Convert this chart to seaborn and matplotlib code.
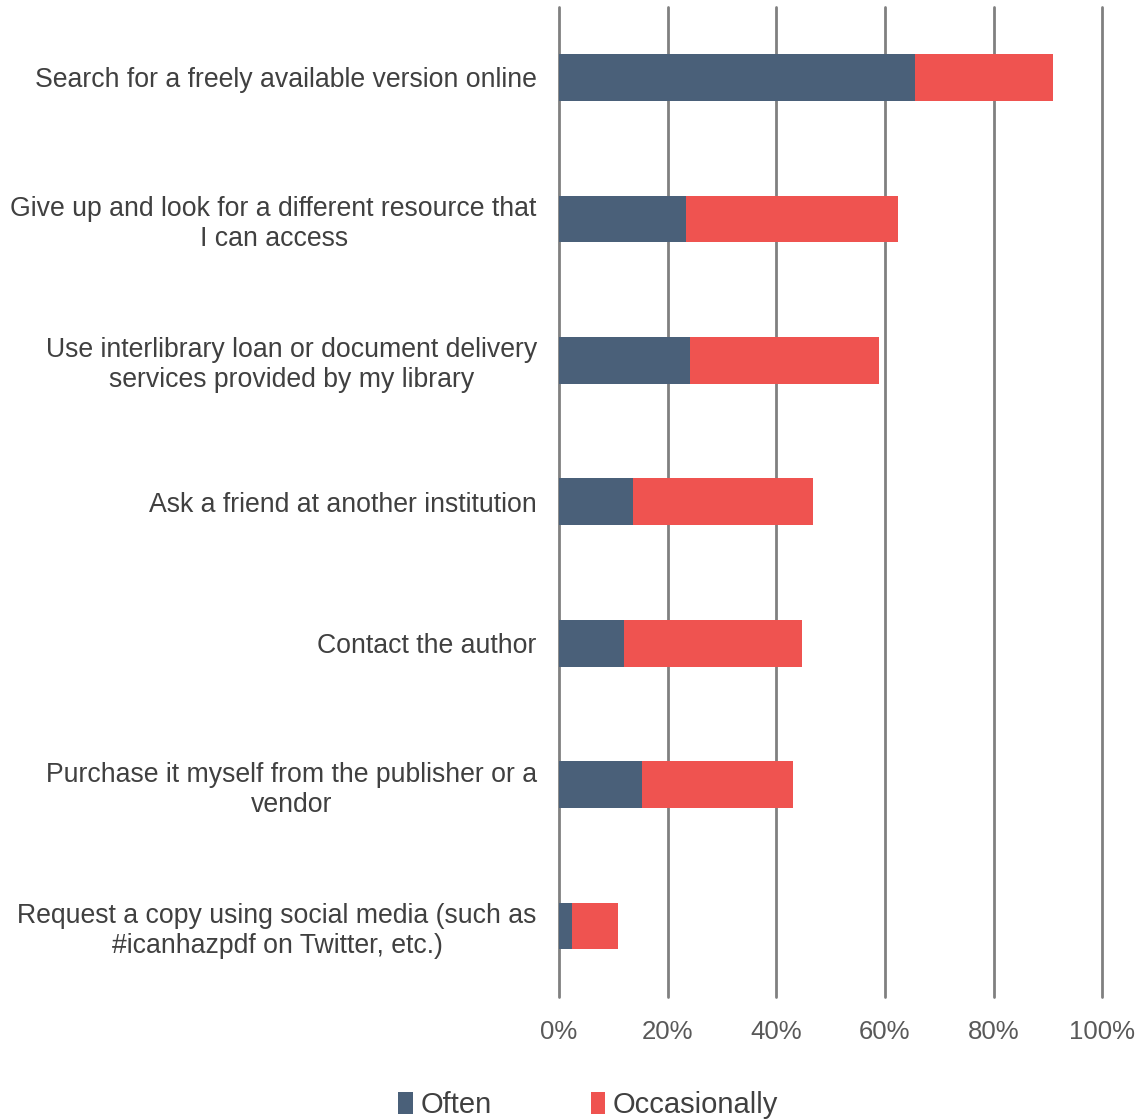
import matplotlib
matplotlib.use("Agg")
import matplotlib.pyplot as plt
import seaborn as sns
import pandas as pd
import numpy as np
from matplotlib.patches import Patch

categories = [
    "Search for a freely available version online",
    "Give up and look for a different resource that\nI can access",
    "Use interlibrary loan or document delivery\nservices provided by my library",
    "Ask a friend at another institution",
    "Contact the author",
    "Purchase it myself from the publisher or a\nvendor",
    "Request a copy using social media (such as\n#icanhazpdf on Twitter, etc.)",
]
often = [65.5, 23.4, 24.1, 13.7, 11.9, 15.2, 2.4]
occasionally = [25.5, 39.0, 34.8, 33.1, 32.8, 27.8, 8.5]
tick_values = [0, 20, 40, 60, 80, 100]
tick_labels = ["0%", "20%", "40%", "60%", "80%", "100%"]
series_names = ["Often", "Occasionally"]

c_often = "#4A6079"
c_occ = "#EF5350"
txt = "#404040"

sns.set_theme(style="white")
plt.rcParams["font.family"] = ["Liberation Sans", "DejaVu Sans"]

df = pd.DataFrame({"category": categories, "often": often, "occasionally": occasionally})
df["total"] = df["often"] + df["occasionally"]

fig = plt.figure(figsize=(11.4, 11.2), dpi=100)
ax = fig.add_axes([0.4904, 0.110, 0.4765, 0.884])

sns.barplot(data=df, x="total", y="category", color=c_occ, width=0.33,
            saturation=1, ax=ax, orient="h", linewidth=0)
sns.barplot(data=df, x="often", y="category", color=c_often, width=0.33,
            saturation=1, ax=ax, orient="h", linewidth=0)

ax.set_xlim(0, 100)
ax.set_xticks(tick_values)
ax.set_xticklabels(tick_labels, fontsize=18.5, color="#595959")
ax.set_xlabel("")
ax.set_ylabel("")
for lab in ax.get_yticklabels():
    lab.set_multialignment("center")
    lab.set_fontsize(19.2)
    lab.set_color(txt)
ax.tick_params(axis="y", length=0, pad=16)
ax.tick_params(axis="x", length=0, pad=17)
for s in ax.spines.values():
    s.set_visible(False)
ax.grid(False)
for v in tick_values:
    ax.axvline(v, color="#808080", lw=2, zorder=0, clip_on=False)
ax.set_axisbelow(True)

handles = [Patch(facecolor=c_often, edgecolor="none"), Patch(facecolor=c_occ, edgecolor="none")]
fig.legend(handles, series_names, loc="center", bbox_to_anchor=(0.516, 0.013), ncol=2,
           frameon=False, fontsize=21, handlelength=0.5, handleheight=0.8,
           handletextpad=0.25, columnspacing=3.4, labelcolor=txt)

fig.savefig("out.png", dpi=100)
